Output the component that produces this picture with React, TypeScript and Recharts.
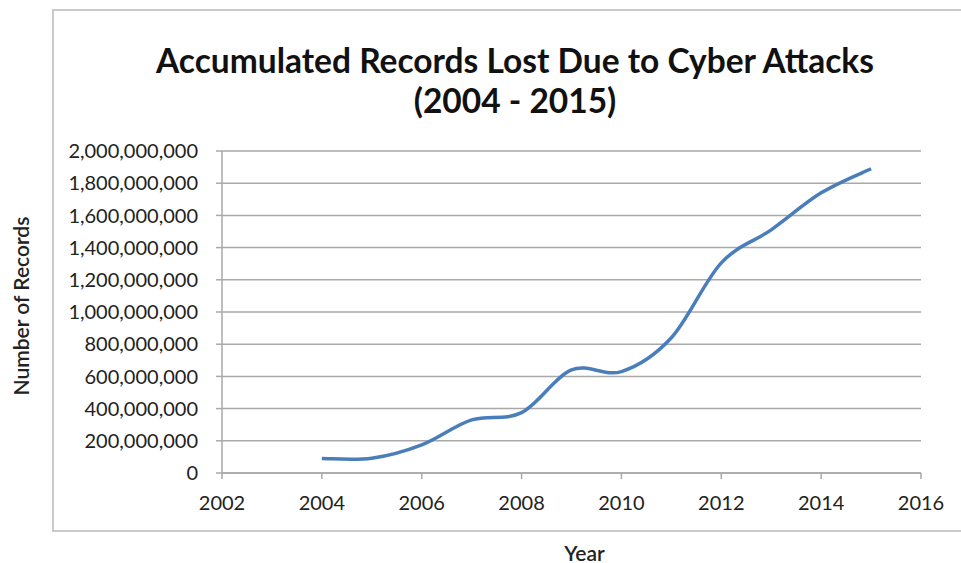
import React from 'react';
import { LineChart, Line, XAxis, YAxis, CartesianGrid, Label } from 'recharts';

const years = [2004, 2005, 2006, 2007, 2008, 2009, 2010, 2011, 2012, 2013, 2014, 2015];
const recordsLost = [
  90000000, 92000000, 175000000, 330000000, 375000000, 640000000,
  630000000, 840000000, 1305000000, 1510000000, 1740000000, 1890000000,
];
const xTicks = [2002, 2004, 2006, 2008, 2010, 2012, 2014, 2016];
const yTicks = [0, 200000000, 400000000, 600000000, 800000000, 1000000000, 1200000000, 1400000000, 1600000000, 1800000000, 2000000000];

const chartTitle = ['Accumulated Records Lost Due to Cyber Attacks', '(2004 - 2015)'];
const xTitle = 'Year';
const yTitle = 'Number of Records';

const data = years.map((year, i) => ({ year, records: recordsLost[i] }));

const FONT = 'Lato, "Open Sans", sans-serif';
const GRID = '#a9a9a9';

// Spreadsheet-style smoothed line: cubic Bezier segments with control points
// taken from neighbouring points (uniform Catmull-Rom).
const smoothCurve = (context: any) => {
  let pts: [number, number][] = [];
  return {
    areaStart() {},
    areaEnd() {},
    lineStart() {
      pts = [];
    },
    point(x: number, y: number) {
      pts.push([+x, +y]);
    },
    lineEnd() {
      if (!pts.length) return;
      context.moveTo(pts[0][0], pts[0][1]);
      for (let i = 0; i < pts.length - 1; i++) {
        const p0 = pts[i - 1] || pts[i];
        const p1 = pts[i];
        const p2 = pts[i + 1];
        const p3 = pts[i + 2] || p2;
        const c1x = p1[0] + (p2[0] - p0[0]) / 6;
        const c1y = p1[1] + (p2[1] - p0[1]) / 6;
        const c2x = p2[0] - (p3[0] - p1[0]) / 6;
        const c2y = p2[1] - (p3[1] - p1[1]) / 6;
        context.bezierCurveTo(c1x, c1y, c2x, c2y, p2[0], p2[1]);
      }
    },
  };
};

const fmt = (v: number) => v.toLocaleString('en-US');

export default function App() {
  return (
    <div style={{ position: 'absolute', left: 0, top: 0, width: 961, height: 563, background: '#fff', overflow: 'hidden' }}>
      <div
        style={{
          position: 'absolute',
          left: 52,
          top: 9,
          width: 960,
          height: 519,
          border: '2px solid #c9c9c9',
        }}
      />
      <div
        style={{
          position: 'absolute',
          left: 0,
          top: 40,
          width: 1030,
          textAlign: 'center',
          fontFamily: FONT,
          fontWeight: 700,
          fontSize: 33.5,
          lineHeight: '40px',
          color: '#111',
        }}
      >
        <div>{chartTitle[0]}</div>
        <div>{chartTitle[1]}</div>
      </div>
      <div style={{ position: 'absolute', left: 0, top: 0 }}>
        <LineChart width={961} height={563} data={data} margin={{ top: 151, right: 40, bottom: 0, left: 0 }}>
          <CartesianGrid vertical={false} stroke={GRID} strokeWidth={1.5} />
          <XAxis
            dataKey="year"
            type="number"
            domain={[2002, 2016]}
            ticks={xTicks}
            height={90}
            axisLine={{ stroke: GRID, strokeWidth: 1.5 }}
            tickLine={{ stroke: GRID, strokeWidth: 1.5 }}
            tickSize={6}
            tickMargin={17}
            tick={{ fill: '#222', fontSize: 20, fontFamily: FONT }}
          >
            <Label
              content={({ viewBox }: any) => (
                <text
                  x={viewBox.x + viewBox.width / 2 + 13}
                  y={viewBox.y + 79}
                  textAnchor="middle"
                  dominantBaseline="central"
                  fill="#222"
                  fontSize={21}
                  fontWeight={600}
                  fontFamily={FONT}
                >
                  {xTitle}
                </text>
              )}
            />
          </XAxis>
          <YAxis
            type="number"
            domain={[0, 2000000000]}
            ticks={yTicks}
            width={222}
            interval={0}
            tickFormatter={fmt}
            axisLine={{ stroke: GRID, strokeWidth: 1.5 }}
            tickLine={{ stroke: GRID, strokeWidth: 1.5 }}
            tickSize={6}
            tickMargin={18}
            tick={{ fill: '#222', fontSize: 20, fontFamily: FONT }}
          >
            <Label
              content={({ viewBox }: any) => {
                const cx = viewBox.x + 20;
                const cy = viewBox.y + viewBox.height / 2 - 6;
                return (
                  <text
                    x={cx}
                    y={cy}
                    transform={`rotate(-90, ${cx}, ${cy})`}
                    textAnchor="middle"
                    dominantBaseline="central"
                    fill="#222"
                    fontSize={21}
                    fontWeight={600}
                    fontFamily={FONT}
                  >
                    {yTitle}
                  </text>
                );
              }}
            />
          </YAxis>
          <Line
            dataKey="records"
            type={smoothCurve as any}
            stroke="#4a7ebb"
            strokeWidth={3.5}
            dot={false}
            activeDot={false}
            isAnimationActive={false}
          />
        </LineChart>
      </div>
    </div>
  );
}
